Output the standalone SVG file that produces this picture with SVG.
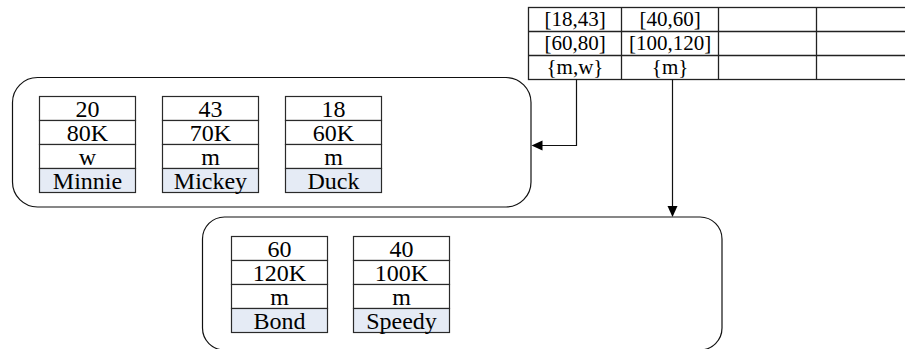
<svg xmlns="http://www.w3.org/2000/svg" width="905" height="349" viewBox="0 0 905 349">
<g id="table">
<g fill="none" stroke="#222" stroke-width="1.3">
<rect x="528.5" y="7.5" width="390" height="72" fill="#fff"/>
<line x1="528.5" y1="31.5" x2="918" y2="31.5"/>
<line x1="528.5" y1="55.5" x2="918" y2="55.5"/>
<line x1="621.5" y1="7.5" x2="621.5" y2="79.5"/>
<line x1="718.5" y1="7.5" x2="718.5" y2="79.5"/>
<line x1="816.5" y1="7.5" x2="816.5" y2="79.5"/>
</g>
<text font-family="Liberation Serif" font-size="21" x="544.4" y="26">[18,43]</text>
<text font-family="Liberation Serif" font-size="21" x="639.4" y="26">[40,60]</text>
<text font-family="Liberation Serif" font-size="21" x="544.4" y="50">[60,80]</text>
<text font-family="Liberation Serif" font-size="21" x="628.9" y="50">[100,120]</text>
<text font-family="Liberation Serif" font-size="21" x="546.5" y="74">{m,w}</text>
<text font-family="Liberation Serif" font-size="21" x="651.8" y="74">{m}</text>
</g>

<g id="bucket1">
<rect x="12.5" y="77.5" width="518.5" height="129.5" rx="25" ry="25" fill="none" stroke="#111" stroke-width="1.2"/>
</g>
<g id="bucket2">
<rect x="202.5" y="217" width="519.5" height="133" rx="22" ry="22" fill="none" stroke="#111" stroke-width="1.2"/>
</g>

<g id="minnie">
<g stroke="#2a2a2a" stroke-width="1.2" fill="#fff">
<rect x="39.5" y="96.5" width="96" height="24"/>
<rect x="39.5" y="120.5" width="96" height="24"/>
<rect x="39.5" y="144.5" width="96" height="24"/>
<rect x="39.5" y="168.5" width="96" height="24" fill="#e5ebf5"/>
</g>
<text font-family="Liberation Serif" font-size="24" x="75.5" y="116.5">20</text>
<text font-family="Liberation Serif" font-size="24" x="66.8" y="140.5">80K</text>
<text font-family="Liberation Serif" font-size="24" x="78.8" y="164.5">w</text>
<text font-family="Liberation Serif" font-size="24" x="52.8" y="188.5">Minnie</text>
</g>
<g id="mickey">
<g stroke="#2a2a2a" stroke-width="1.2" fill="#fff">
<rect x="162.5" y="96.5" width="96" height="24"/>
<rect x="162.5" y="120.5" width="96" height="24"/>
<rect x="162.5" y="144.5" width="96" height="24"/>
<rect x="162.5" y="168.5" width="96" height="24" fill="#e5ebf5"/>
</g>
<text font-family="Liberation Serif" font-size="24" x="198.5" y="116.5">43</text>
<text font-family="Liberation Serif" font-size="24" x="189.8" y="140.5">70K</text>
<text font-family="Liberation Serif" font-size="24" x="201.2" y="164.5">m</text>
<text font-family="Liberation Serif" font-size="24" x="173.8" y="188.5">Mickey</text>
</g>
<g id="duck">
<g stroke="#2a2a2a" stroke-width="1.2" fill="#fff">
<rect x="285.5" y="96.5" width="96" height="24"/>
<rect x="285.5" y="120.5" width="96" height="24"/>
<rect x="285.5" y="144.5" width="96" height="24"/>
<rect x="285.5" y="168.5" width="96" height="24" fill="#e5ebf5"/>
</g>
<text font-family="Liberation Serif" font-size="24" x="321.5" y="116.5">18</text>
<text font-family="Liberation Serif" font-size="24" x="312.8" y="140.5">60K</text>
<text font-family="Liberation Serif" font-size="24" x="324.2" y="164.5">m</text>
<text font-family="Liberation Serif" font-size="24" x="307.5" y="188.5">Duck</text>
</g>
<g id="bond">
<g stroke="#2a2a2a" stroke-width="1.2" fill="#fff">
<rect x="231.5" y="236.5" width="96" height="24"/>
<rect x="231.5" y="260.5" width="96" height="24"/>
<rect x="231.5" y="284.5" width="96" height="24"/>
<rect x="231.5" y="308.5" width="96" height="24" fill="#e5ebf5"/>
</g>
<text font-family="Liberation Serif" font-size="24" x="267.5" y="256.5">60</text>
<text font-family="Liberation Serif" font-size="24" x="252.8" y="280.5">120K</text>
<text font-family="Liberation Serif" font-size="24" x="270.2" y="304.5">m</text>
<text font-family="Liberation Serif" font-size="24" x="253.5" y="328.5">Bond</text>
</g>
<g id="speedy">
<g stroke="#2a2a2a" stroke-width="1.2" fill="#fff">
<rect x="353.5" y="236.5" width="96" height="24"/>
<rect x="353.5" y="260.5" width="96" height="24"/>
<rect x="353.5" y="284.5" width="96" height="24"/>
<rect x="353.5" y="308.5" width="96" height="24" fill="#e5ebf5"/>
</g>
<text font-family="Liberation Serif" font-size="24" x="389.5" y="256.5">40</text>
<text font-family="Liberation Serif" font-size="24" x="374.8" y="280.5">100K</text>
<text font-family="Liberation Serif" font-size="24" x="392.2" y="304.5">m</text>
<text font-family="Liberation Serif" font-size="24" x="366.2" y="328.5">Speedy</text>
</g>

<g id="connectors">
<path d="M576.5 79.5 V145.5 H542" fill="none" stroke="#111" stroke-width="1.2"/>
<path d="M531.5 145.5 L542.5 140.5 L542.5 150.5 Z" fill="#000"/>
<path d="M672.5 79.5 V206.5" fill="none" stroke="#111" stroke-width="1.2"/>
<path d="M672.5 217 L667.5 206 L677.5 206 Z" fill="#000"/>
</g>
</svg>
